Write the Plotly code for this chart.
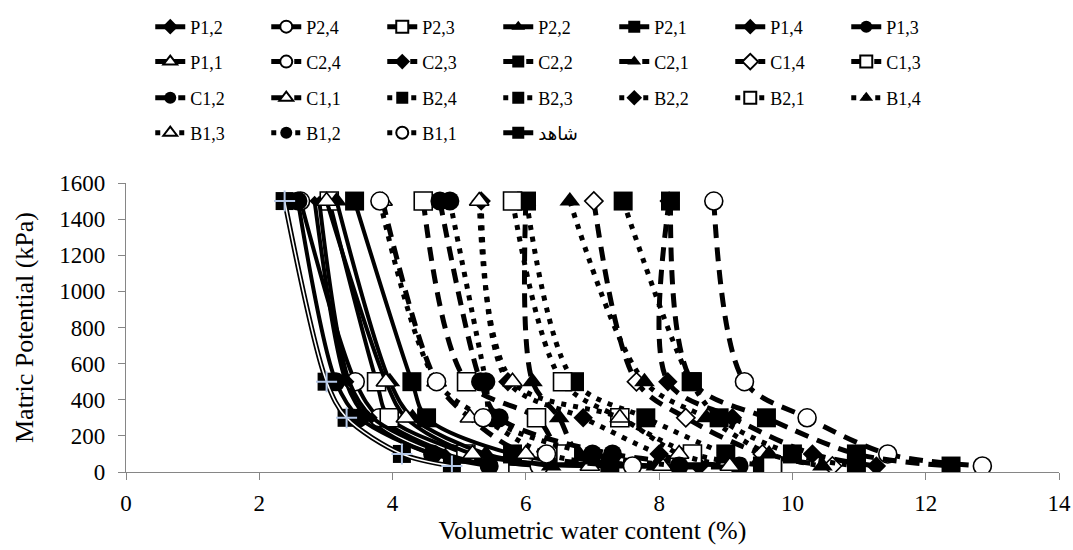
import plotly.graph_objects as go

# suction levels (kPa) shared by every curve
suction = [1500, 500, 300, 100, 33]

# volumetric water content (%), one list per treatment
p12 = [2.83, 3.30, 3.62, 4.60, 8.60]
p24 = [2.62, 3.44, 3.80, 4.90, 6.20]
p23 = [3.05, 3.76, 3.95, 5.10, 5.61]
p22 = [3.16, 3.96, 4.30, 5.40, 6.38]
p21 = [3.43, 4.29, 4.51, 5.80, 7.26]
p14 = [2.90, 3.35, 3.70, 4.80, 5.50]
p13 = [2.58, 3.15, 3.50, 4.60, 5.45]
p11 = [3.01, 3.90, 4.20, 5.20, 6.96]

c24 = [8.82, 9.28, 10.22, 11.43, 12.85]
c23 = [8.15, 8.13, 9.10, 10.30, 11.26]
c22 = [8.17, 8.50, 9.61, 10.96, 12.38]
c21 = [6.00, 6.10, 6.50, 6.80, 7.95]
c14 = [7.02, 7.66, 8.40, 9.55, 10.60]
c13 = [4.46, 5.11, 6.16, 6.60, 9.70]
c12 = [4.71, 5.32, 5.60, 7.30, 9.20]
c11 = [3.85, 4.66, 5.16, 6.00, 8.05]

b24 = [6.01, 6.73, 7.80, 9.00, 9.55]
b23 = [7.46, 8.48, 8.90, 10.00, 10.96]
b22 = [5.33, 5.73, 6.86, 8.00, 8.60]
b21 = [5.80, 6.55, 7.41, 8.50, 9.70]
b14 = [6.66, 7.78, 8.71, 9.65, 10.45]
b13 = [5.30, 5.80, 7.41, 8.30, 9.06]
b12 = [4.86, 5.40, 5.50, 7.00, 8.30]
b11 = [3.81, 4.66, 5.36, 6.31, 7.60]

control = [2.38, 3.01, 3.31, 4.14, 4.89]

FONT = "Liberation Serif, Times New Roman, DejaVu Sans, serif"

lines = {
    "solid": dict(color="black", width=4),
    "dash": dict(color="black", width=5, dash="14px,9px"),
    "dot": dict(color="black", width=5, dash="5px,7px"),
}

# symbol, filled?, size
marks = {
    "dsmall": ("diamond", True, 8),
    "circ": ("circle", True, 19),
    "circo": ("circle", False, 18),
    "sq": ("square", True, 19),
    "sqo": ("square", False, 18),
    "tri": ("triangle-up", True, 18),
    "trio": ("triangle-up", False, 17),
    "dia": ("diamond", True, 15),
    "diao": ("diamond", False, 14),
}

series = [
    ("P1,2", p12, "solid", "dsmall"),
    ("P2,4", p24, "solid", "circo"),
    ("P2,3", p23, "solid", "sqo"),
    ("P2,2", p22, "solid", "tri"),
    ("P2,1", p21, "solid", "sq"),
    ("P1,4", p14, "solid", "dsmall"),
    ("P1,3", p13, "solid", "circ"),
    ("P1,1", p11, "solid", "trio"),
    ("C2,4", c24, "dash", "circo"),
    ("C2,3", c23, "dash", "dia"),
    ("C2,2", c22, "dash", "sq"),
    ("C2,1", c21, "dash", "tri"),
    ("C1,4", c14, "dash", "diao"),
    ("C1,3", c13, "dash", "sqo"),
    ("C1,2", c12, "dash", "circ"),
    ("C1,1", c11, "dash", "trio"),
    ("B2,4", b24, "dot", "sq"),
    ("B2,3", b23, "dot", "sq"),
    ("B2,2", b22, "dot", "dia"),
    ("B2,1", b21, "dot", "sqo"),
    ("B1,4", b14, "dot", "tri"),
    ("B1,3", b13, "dot", "trio"),
    ("B1,2", b12, "dot", "circ"),
    ("B1,1", b11, "dot", "circo"),
]

legend_keys = ["legend", "legend2", "legend3", "legend4"]

fig = go.Figure()

for i, (name, xs, ls, mk) in enumerate(series):
    sym, filled, size = marks[mk]
    fig.add_trace(go.Scatter(
        x=xs, y=suction, name=name, mode="lines+markers",
        line=dict(shape="spline", smoothing=0.9, **lines[ls]),
        marker=dict(symbol=sym, size=size,
                    color="black" if filled else "white",
                    line=dict(color="black", width=0 if filled else 1.6)),
        legend=legend_keys[i // 7],
    ))

# control (شاهد): double line with a black square and a light cross
fig.add_trace(go.Scatter(
    x=control, y=suction, name="شاهد", mode="lines+markers",
    line=dict(color="black", width=5, shape="spline", smoothing=0.9),
    marker=dict(symbol="square", size=18, color="black"),
    legend="legend4",
))
fig.add_trace(go.Scatter(
    x=control, y=suction, mode="lines+markers", showlegend=False,
    line=dict(color="white", width=1.6, shape="spline", smoothing=0.9),
    marker=dict(symbol="cross-thin", size=15, line=dict(color="#b4c7e7", width=2)),
    hoverinfo="skip",
))

# one legend per row, four rows above the plot
row_y = [1.540, 1.419, 1.294, 1.173]
for key, yy in zip(legend_keys, row_y):
    fig.update_layout(**{key: dict(
        orientation="h", x=0.026, xanchor="left", y=yy, yanchor="middle",
        entrywidth=71, itemsizing="constant", traceorder="normal",
        font=dict(family=FONT, size=18, color="black"),
        bgcolor="rgba(0,0,0,0)",
    )})

axis_common = dict(
    showgrid=False, zeroline=False, showline=True, linecolor="#868686", linewidth=1.3,
    ticks="outside", tickcolor="#868686", ticklen=7, tickwidth=1.3, automargin=False,
    tickfont=dict(family=FONT, size=23, color="black"),
)

fig.update_xaxes(range=[0, 14], dtick=2, ticklabelstandoff=3,
                 title=dict(text="Volumetric water content (%)", standoff=2,
                            font=dict(family=FONT, size=26, color="black")),
                 **axis_common)
fig.update_yaxes(range=[0, 1600], dtick=200, ticklabelstandoff=8,
                 title=dict(text="Matric Potential (kPa)", standoff=18,
                            font=dict(family=FONT, size=26, color="black")),
                 **axis_common)

fig.update_layout(
    width=1073, height=550,
    margin=dict(l=126, r=14, t=183, b=78, autoexpand=False),
    plot_bgcolor="white", paper_bgcolor="white",
    font=dict(family=FONT, color="black"),
)

fig.write_html("out.html", config={"displayModeBar": False},
               post_script="document.body.style.margin='0px';")
